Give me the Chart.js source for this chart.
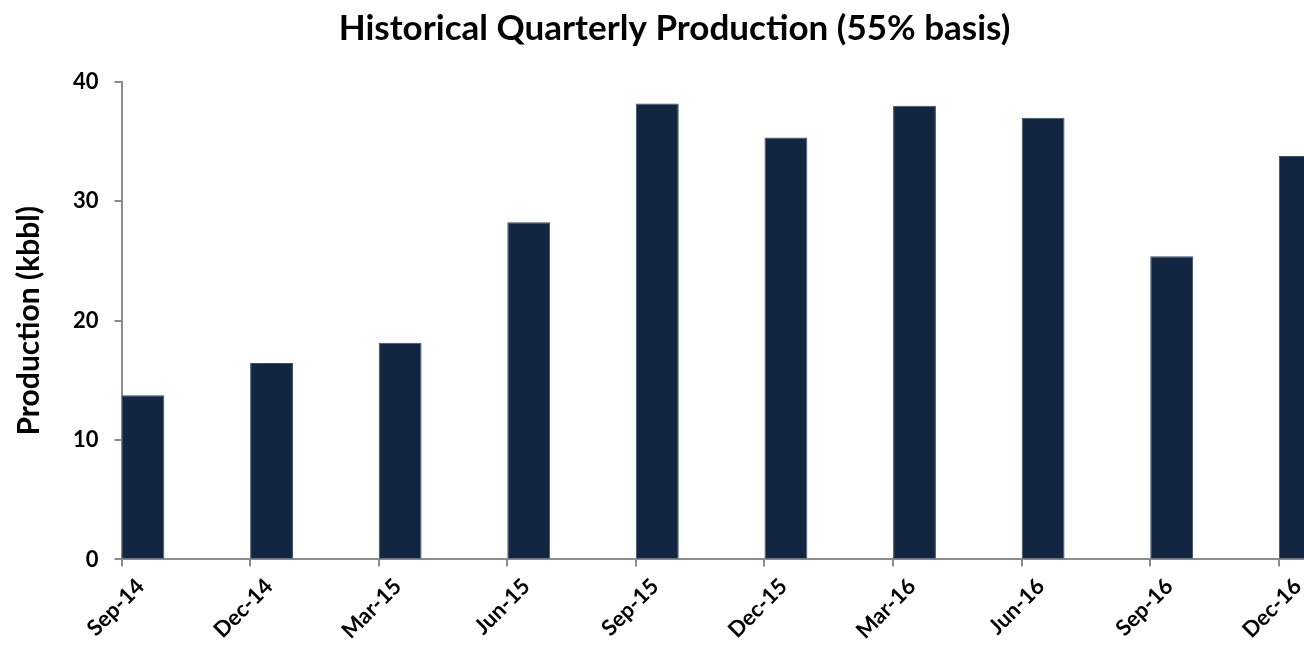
<!DOCTYPE html>
<html>
<head>
<meta charset="utf-8">
<script src="https://cdn.jsdelivr.net/npm/chart.js@4.4.1/dist/chart.umd.min.js"></script>
<style>
    html, body { margin: 0; padding: 0; background: #fff; overflow: hidden; }
    #contenedor { width: 1338px; height: 651px; }
</style>
</head>
<body>
<div id="contenedor">
    <canvas id="produccionChart"></canvas>
</div>
<script>
// Datos
const trimestres = ["Sep-14", "Dec-14", "Mar-15", "Jun-15", "Sep-15", "Dec-15", "Mar-16", "Jun-16", "Sep-16", "Dec-16"];
const produccion = [13.75, 16.45, 18.15, 28.25, 38.2, 35.35, 38.0, 37.0, 25.4, 33.8];
const ticksY = [0, 10, 20, 30, 40];

const colorBarra = '#132641';
const colorEje = '#8c8c8c';
const fuente = "Lato, 'Open Sans', sans-serif";

// la barra ocupa un tercio del intervalo y arranca en la marca del eje
const fraccionBarra = 1 / 3;
const puntos = produccion.map((v, i) => ({ x: i + fraccionBarra / 2, y: v }));

var ctx = document.getElementById('produccionChart').getContext('2d');
var produccionChart = new Chart(ctx, {
    type: 'bar',
    data: {
        datasets: [{
            label: 'Production (kbbl)',
            data: puntos,
            backgroundColor: colorBarra,
            borderColor: '#3c4d66',
            borderWidth: 1,
            categoryPercentage: 1,
            barPercentage: fraccionBarra
        }]
    },
    options: {
        responsive: true,
        maintainAspectRatio: false,
        animation: false,
        layout: { padding: { left: 11, right: 0, top: 0, bottom: 0 } },
        plugins: {
            legend: { display: false },
            tooltip: { enabled: false },
            title: {
                display: true,
                text: 'Historical Quarterly Production (55% basis)',
                color: '#000',
                font: { family: fuente, size: 35, weight: 'bold' },
                padding: { top: 8, bottom: 32 }
            }
        },
        scales: {
            x: {
                type: 'linear',
                offset: false,
                min: 0,
                max: 9.46,
                afterBuildTicks: function (scale) {
                    scale.ticks = trimestres.map((t, i) => ({ value: i }));
                },
                ticks: {
                    callback: function (value) { return trimestres[value]; },
                    color: '#000',
                    font: { family: fuente, size: 22, weight: 'bold' },
                    minRotation: 45,
                    maxRotation: 45,
                    labelOffset: 19,
                    padding: 7,
                    autoSkip: false
                },
                grid: { offset: false, drawOnChartArea: false, drawTicks: true, tickLength: 7, color: colorEje, lineWidth: 2 },
                border: { display: true, color: colorEje, width: 2 }
            },
            y: {
                min: 0,
                max: 40,
                afterBuildTicks: function (scale) {
                    scale.ticks = ticksY.map(v => ({ value: v }));
                },
                ticks: {
                    color: '#000',
                    font: { family: fuente, size: 22, weight: 'bold' },
                    padding: 16
                },
                grid: { drawOnChartArea: false, drawTicks: true, tickLength: 7, color: colorEje, lineWidth: 2 },
                border: { display: true, color: colorEje, width: 2 },
                title: {
                    display: true,
                    text: 'Production (kbbl)',
                    color: '#000',
                    font: { family: fuente, size: 30, weight: 'bold' },
                    padding: { top: 0, bottom: 10 }
                }
            }
        }
    }
});
</script>
</body>
</html>
